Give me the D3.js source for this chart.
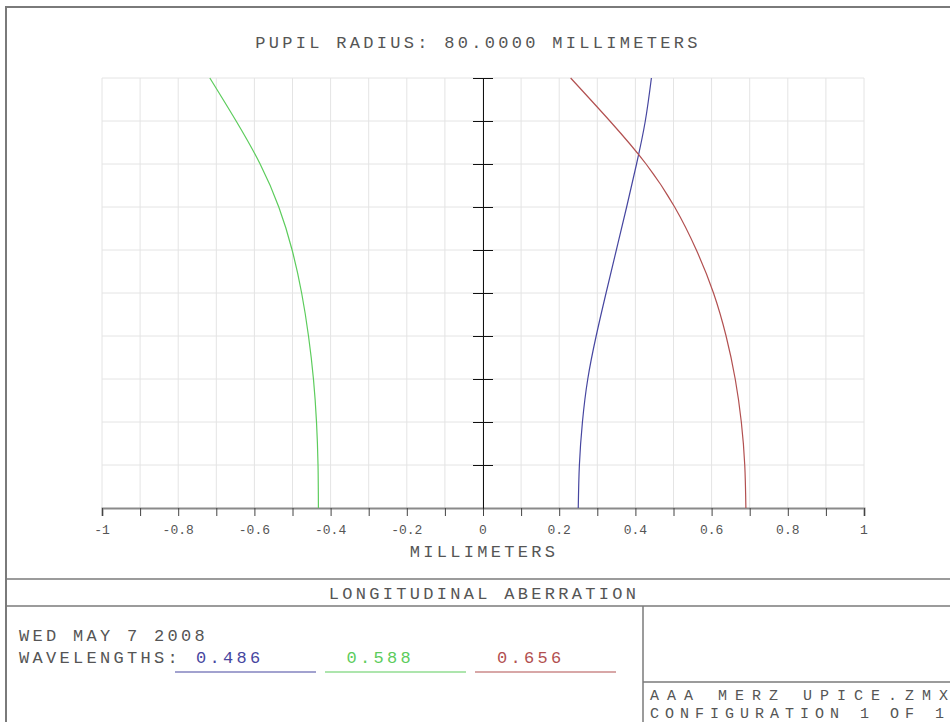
<!DOCTYPE html>
<html>
<head>
<meta charset="utf-8">
<script src="https://cdn.jsdelivr.net/npm/d3@7"></script>
<style>
  body { margin: 0; background: #fff; }
  text { font-family: "Liberation Mono", "DejaVu Sans Mono", monospace; fill: #555; }
</style>
</head>
<body>
<div id="chart"></div>
<script>
// data: relative pupil height vs focus shift (mm)
const pupil = [0, 0.1, 0.2, 0.3, 0.4, 0.5, 0.6, 0.7, 0.8, 0.9, 1.0];
const blue486 = [0.250, 0.253, 0.261, 0.275, 0.297, 0.323, 0.350, 0.377, 0.403, 0.426, 0.442];
const green588 = [-0.432, -0.433, -0.437, -0.445, -0.458, -0.476, -0.501, -0.536, -0.585, -0.648, -0.717];
const red656 = [0.690, 0.687, 0.678, 0.662, 0.638, 0.605, 0.560, 0.503, 0.428, 0.333, 0.230];

const wavelengths = ["0.486", "0.588", "0.656"];
const waveColors = ["#4646a0", "#5ccc5c", "#b25050"];
const xTicks = [-1, -0.9, -0.8, -0.7, -0.6, -0.5, -0.4, -0.3, -0.2, -0.1, 0, 0.1, 0.2, 0.3, 0.4, 0.5, 0.6, 0.7, 0.8, 0.9, 1];
const xLabels = [-1, -0.8, -0.6, -0.4, -0.2, 0, 0.2, 0.4, 0.6, 0.8, 1];
const yTicks = [0.1, 0.2, 0.3, 0.4, 0.5, 0.6, 0.7, 0.8, 0.9, 1.0];

const width = 950, height = 722;

let svg = d3.select("#chart")
    .append("svg")
    .attr("width", width)
    .attr("height", height);

let x = d3.scaleLinear().domain([-1, 1]).range([102, 864]);
let y = d3.scaleLinear().domain([0, 1]).range([508, 78]);

// outer frame + panel dividers
svg.append("rect")
    .attr("x", 6).attr("y", 7)
    .attr("width", 980).attr("height", 760)
    .attr("fill", "none").attr("stroke", "#7a7a7a").attr("stroke-width", 2);
svg.append("line").attr("x1", 6).attr("x2", 950).attr("y1", 579).attr("y2", 579)
    .attr("stroke", "#7a7a7a").attr("stroke-width", 1.5);
svg.append("line").attr("x1", 6).attr("x2", 950).attr("y1", 606).attr("y2", 606)
    .attr("stroke", "#7a7a7a").attr("stroke-width", 1.5);
svg.append("line").attr("x1", 643).attr("x2", 643).attr("y1", 606).attr("y2", 722)
    .attr("stroke", "#7a7a7a").attr("stroke-width", 1.5);
svg.append("line").attr("x1", 643).attr("x2", 950).attr("y1", 682).attr("y2", 682)
    .attr("stroke", "#7a7a7a").attr("stroke-width", 1.5);

// grid
let grid = svg.append("g");
grid.selectAll(".vg").data(xTicks).enter().append("line")
    .attr("x1", d => x(d)).attr("x2", d => x(d))
    .attr("y1", y(1)).attr("y2", y(0))
    .attr("stroke", "#e4e4e4");
grid.selectAll(".hg").data(yTicks).enter().append("line")
    .attr("x1", x(-1)).attr("x2", x(1))
    .attr("y1", d => y(d)).attr("y2", d => y(d))
    .attr("stroke", "#e4e4e4");

// x axis
svg.append("g")
    .attr("transform", `translate(0, ${y(0)})`)
    .call(d3.axisBottom(x).tickValues(xTicks).tickSize(8).tickFormat(""))
    .call(g => g.select(".domain").attr("stroke", "#8a8a8a").attr("stroke-width", 2))
    .call(g => g.selectAll(".tick line").attr("stroke", "#444"));

svg.append("g").selectAll("text").data(xLabels).enter().append("text")
    .attr("x", d => x(d))
    .attr("y", 534)
    .attr("text-anchor", "middle")
    .style("font-size", "13px")
    .text(d => d);

// y axis at x = 0
svg.append("g")
    .attr("transform", `translate(${x(0)}, 0)`)
    .call(d3.axisLeft(y).tickValues(yTicks).tickSizeInner(-20).tickSizeOuter(0).tickFormat(""))
    .call(g => g.select(".domain").attr("stroke", "#111").attr("stroke-width", 1))
    .call(g => g.selectAll(".tick line").attr("stroke", "#111").attr("transform", "translate(-10,0)"));

// curves
let line = d3.line().curve(d3.curveNatural);
[blue486, green588, red656].forEach(function(vals, i) {
    svg.append("path")
        .attr("d", line(vals.map((v, k) => [x(v), y(pupil[k])])))
        .attr("fill", "none")
        .attr("stroke", waveColors[i])
        .attr("stroke-width", 1.2);
});

// titles
function label(txt, px, py, size, spacing, anchor) {
    return svg.append("text")
        .attr("x", px).attr("y", py)
        .attr("text-anchor", anchor || "start")
        .style("font-size", size + "px")
        .style("letter-spacing", spacing + "px")
        .text(txt);
}
label("PUPIL RADIUS: 80.0000 MILLIMETERS", 478, 48, 17, 3.3, "middle");
label("MILLIMETERS", 484, 557, 17, 3.3, "middle");
label("LONGITUDINAL ABERRATION", 484, 599, 17, 3.3, "middle");
label("WED MAY 7 2008", 19, 641, 17, 3.3);
label("WAVELENGTHS:", 19, 663, 17, 3.3);

wavelengths.forEach(function(w, i) {
    label(w, 196 + i * 150.5, 663, 17, 3.3).style("fill", waveColors[i]);
    svg.append("line")
        .attr("x1", 175 + i * 150).attr("x2", 316 + i * 150)
        .attr("y1", 672).attr("y2", 672)
        .attr("stroke", waveColors[i]).attr("stroke-width", 1.2);
});

label("AAA MERZ UPICE.ZMX", 650, 700, 15, 0)
    .attr("textLength", 298).attr("lengthAdjust", "spacing");
label("CONFIGURATION 1 OF 1", 650, 718, 15, 0)
    .attr("textLength", 294).attr("lengthAdjust", "spacing");
</script>
</body>
</html>
